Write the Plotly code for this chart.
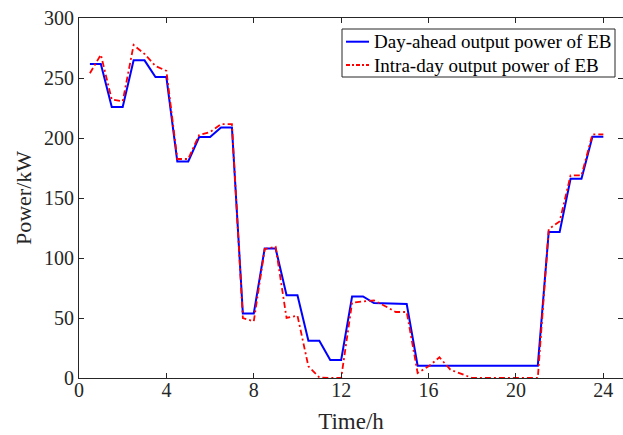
import plotly.graph_objects as go

time_h = [0.5, 1.0, 1.5, 2.0, 2.5, 3.0, 3.5, 4.0, 4.5, 5.0, 5.5, 6.0,
          6.5, 7.0, 7.5, 8.0, 8.5, 9.0, 9.5, 10.0, 10.5, 11.0, 11.5, 12.0,
          12.5, 13.0, 13.5, 14.0, 14.5, 15.0, 15.5, 16.0, 16.5, 17.0, 17.5, 18.0,
          18.5, 19.0, 19.5, 20.0, 20.5, 21.0, 21.5, 22.0, 22.5, 23.0, 23.5, 24.0]

day_ahead = [261.7, 261.7, 225.8, 225.8, 264.7, 264.7, 250.8, 250.8, 180.5, 180.5, 200.8, 200.8,
             208.8, 208.8, 53.8, 53.8, 108.0, 108.0, 68.9, 68.9, 31.0, 31.0, 15.0, 15.0,
             68.0, 68.0, 62.5, 62.0, 61.8, 61.6, 10.25, 10.25, 10.25, 10.25, 10.25, 10.25,
             10.25, 10.25, 10.25, 10.25, 10.25, 10.25, 121.7, 121.7, 166.0, 166.0, 201.0, 201.0]

intra_day = [254.0, 269.4, 232.0, 230.5, 277.5, 270.0, 260.0, 256.0, 182.5, 182.5, 202.5, 205.0,
             211.5, 211.5, 50.0, 47.2, 107.5, 109.4, 50.0, 52.0, 9.7, 0.5, 0.0, 0.0,
             62.8, 63.9, 64.7, 60.0, 55.0, 55.0, 4.2, 9.7, 17.2, 6.9, 3.6, 0.0,
             0.0, 0.0, 0.0, 0.0, 0.0, 0.0, 124.0, 130.5, 168.8, 168.8, 203.0, 203.0]

series_names = ["Day-ahead output power of EB", "Intra-day output power of EB"]
x_ticks = [0, 4, 8, 12, 16, 20, 24]
y_ticks = [0, 50, 100, 150, 200, 250, 300]

FONT = "Liberation Serif"
AX = "#262626"
BLUE = "#0000FF"
RED = "#FF0000"
RED_DASH = "6px,3px,2px,3px"

fig = go.Figure()
fig.add_trace(go.Scatter(x=time_h, y=day_ahead, mode="lines", name=series_names[0],
                         line=dict(color=BLUE, width=2), showlegend=False))
fig.add_trace(go.Scatter(x=time_h, y=intra_day, mode="lines", name=series_names[1],
                         line=dict(color=RED, width=1.8, dash=RED_DASH), showlegend=False))

axis_common = dict(showline=True, linecolor=AX, linewidth=1, mirror="ticks",
                   ticks="inside", ticklen=5, tickcolor=AX, tickwidth=1,
                   showgrid=False, zeroline=False,
                   tickfont=dict(family=FONT, size=20, color=AX))

fig.update_xaxes(range=[0, 24.9], tickvals=x_ticks, ticktext=[str(v) for v in x_ticks],
                 ticklabelstandoff=-6,
                 title=dict(text="Time/h", font=dict(family=FONT, size=23, color=AX), standoff=12),
                 **axis_common)
fig.update_yaxes(range=[0, 300], tickvals=y_ticks, ticktext=[str(v) for v in y_ticks],
                 title=dict(text="Power/kW", font=dict(family=FONT, size=22, color=AX), standoff=6),
                 **axis_common)

# legend box (paper coordinates of the plot area)
L, T, W, H = 79, 18, 544, 360
def px(xp):
    return (xp - L) / W
def py(yp):
    return (T + H - yp) / H

fig.add_shape(type="rect", xref="paper", yref="paper",
              x0=px(342), x1=px(615), y0=py(77), y1=py(29),
              line=dict(color=AX, width=1), fillcolor="white", layer="above")
rows = [41.7, 65.0]
styles = [dict(color=BLUE, width=2), dict(color=RED, width=1.8, dash="4px,2px,2px,2px")]
for name, yr, st in zip(series_names, rows, styles):
    fig.add_shape(type="line", xref="paper", yref="paper",
                  x0=px(346), x1=px(369), y0=py(yr), y1=py(yr), line=st, layer="above")
    fig.add_annotation(xref="paper", yref="paper", x=px(371.5), y=py(yr),
                       xanchor="left", yanchor="middle", showarrow=False, text=name,
                       font=dict(family=FONT, size=19, color="black"))

fig.update_layout(
    width=623, height=435,
    margin=dict(l=L, r=0, t=T, b=57),
    paper_bgcolor="white", plot_bgcolor="white",
    showlegend=False,
)

fig.write_html("out.html")
